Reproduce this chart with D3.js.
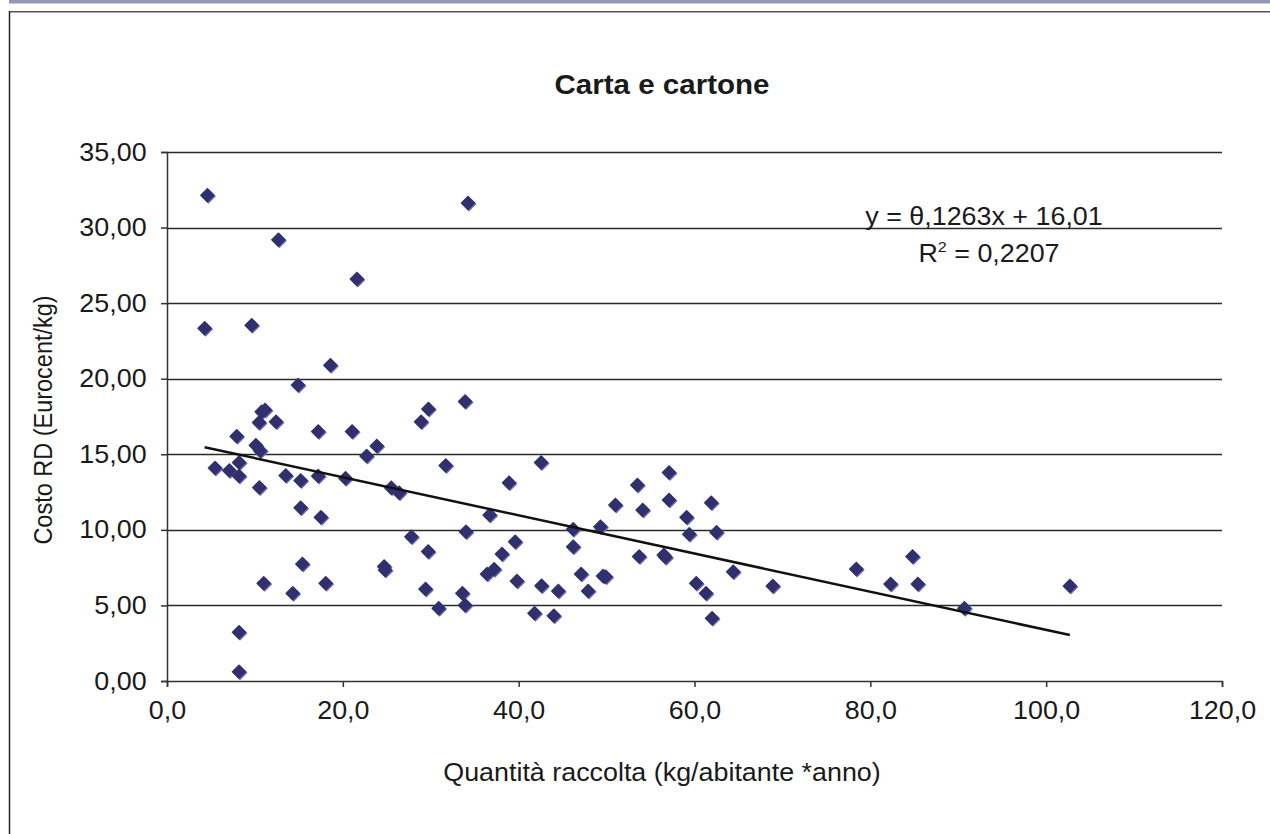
<!DOCTYPE html>
<html>
<head>
<meta charset="utf-8">
<script src="https://cdn.jsdelivr.net/npm/d3@7"></script>
<style>
html,body{margin:0;padding:0;background:#fff;}
svg{display:block;font-family:"Liberation Sans",Arial,sans-serif;}
</style>
</head>
<body>
<svg id="chart" width="1270" height="834"></svg>
<script>
const title = "Carta e cartone";
const xTitle = "Quantità raccolta (kg/abitante *anno)";
const yTitle = "Costo RD (Eurocent/kg)";
const xTicks = [0, 20, 40, 60, 80, 100, 120];
const yTicks = [0, 5, 10, 15, 20, 25, 30, 35];
const trendSlope = -0.1263;
const trendIntercept = 16.01;
const eqText = "y = θ,1263x + 16,01";
const r2Text = "0,2207";

const xs = [4.59,12.67,21.6,4.28,9.63,18.58,14.9,10.77,11.15,10.47,12.4,7.93,17.2,21.05,29.73,28.9,33.9,34.24,
10.1,10.6,23.86,22.7,8.2,5.46,7.09,8.2,13.5,15.2,17.2,20.3,10.5,25.5,26.4,31.7,15.2,17.5,27.8,29.7,15.4,24.7,24.8,
11.0,18.05,14.3,29.4,30.9,33.6,33.9,8.19,8.19,42.55,38.9,36.7,34.0,39.6,38.1,36.4,37.2,39.8,42.6,44.5,41.8,44.0,
46.2,46.2,49.3,47.1,47.9,49.6,49.9,51.0,53.5,54.1,53.7,56.5,56.7,57.1,57.1,59.1,59.4,61.9,62.5,60.2,61.3,62.0,
64.4,68.9,78.4,82.3,84.8,85.4,90.7,102.7];
const ys = [32.14,29.19,26.6,23.34,23.54,20.89,19.59,17.82,17.93,17.1,17.16,16.2,16.5,16.5,18.0,17.16,18.49,31.63,
15.6,15.24,15.55,14.89,14.45,14.1,13.92,13.57,13.59,13.26,13.57,13.41,12.8,12.79,12.46,14.25,11.47,10.83,9.55,8.56,7.74,7.57,7.35,
6.46,6.46,5.80,6.09,4.81,5.80,5.01,3.22,0.62,14.45,13.12,10.99,9.88,9.22,8.41,7.08,7.39,6.62,6.31,5.96,4.48,4.32,
10.04,8.89,10.21,7.08,5.96,6.95,6.9,11.65,12.97,11.32,8.23,8.34,8.19,13.79,11.98,10.83,9.71,11.8,9.84,6.46,5.80,4.15,
7.23,6.29,7.41,6.42,8.23,6.42,4.81,6.29];

const SX = 1.075; // horizontal stretch of the reference's text
const svg = d3.select("#chart");
const fmt = d => d3.format(".1f")(d).replace(".", ",");
const fmt2 = d => d3.format(".2f")(d).replace(".", ",");

// frame
svg.append("rect").attr("x", 9).attr("y", 0).attr("width", 1261).attr("height", 3.5).attr("fill", "#9696b9");
svg.append("line").attr("x1", 9).attr("x2", 1270).attr("y1", 11.5).attr("y2", 11.5).attr("stroke", "#555").attr("stroke-width", 1);
svg.append("line").attr("x1", 10).attr("x2", 1270).attr("y1", 12.5).attr("y2", 12.5).attr("stroke", "#aaa").attr("stroke-width", 1);
svg.append("line").attr("x1", 9.5).attr("x2", 9.5).attr("y1", 11).attr("y2", 834).attr("stroke", "#222").attr("stroke-width", 1.5);

const x = d3.scaleLinear().domain([0, 120]).range([167, 1222]);
const y = d3.scaleLinear().domain([0, 35]).range([681, 152]);

// gridlines
svg.append("g").selectAll("line").data(yTicks.filter(d => d > 0)).join("line")
  .attr("x1", x(0)).attr("x2", x(120))
  .attr("y1", d => Math.round(y(d)) + 0.5).attr("y2", d => Math.round(y(d)) + 0.5)
  .attr("stroke", "#2a2a2a").attr("stroke-width", 1.3);

// axes
const yAxis = svg.append("g").attr("transform", `translate(${x(0)},0)`)
  .call(d3.axisLeft(y).tickValues(yTicks).tickFormat(fmt2).tickSize(6).tickPadding(13));
const xAxis = svg.append("g").attr("transform", `translate(0,${y(0)})`)
  .call(d3.axisBottom(x).tickValues(xTicks).tickFormat(fmt).tickSize(6).tickPadding(14));
[xAxis, yAxis].forEach(a => {
  a.select(".domain").attr("stroke", "#333").attr("stroke-width", 1.5);
  a.selectAll(".tick line").attr("stroke", "#333").attr("stroke-width", 1.5);
  a.selectAll(".tick text").attr("fill", "#1a1a1a").style("font-size", "25px")
    .style("font-family", "'Liberation Sans', Arial, sans-serif")
    .attr("transform", `scale(${SX},1)`);
});

// points
const pts = xs.map((v, i) => [v, ys[i]]);
const h = 7.5;
const diamond = `M0,${-h}L${h},0L0,${h}L${-h},0Z`;
svg.append("g").selectAll("path").data(pts).join("path")
  .attr("d", diamond)
  .attr("transform", d => `translate(${x(d[0]) + 1},${y(d[1]) + 1})`)
  .attr("fill", "#7070b0");
svg.append("g").selectAll("path").data(pts).join("path")
  .attr("d", diamond)
  .attr("transform", d => `translate(${x(d[0])},${y(d[1])})`)
  .attr("fill", "#30306f");

// trendline
const ext = d3.extent(xs);
const tl = ext.map(v => [v, trendIntercept + trendSlope * v]);
svg.append("path").datum(tl)
  .attr("d", d3.line().x(d => x(d[0])).y(d => y(d[1])))
  .attr("stroke", "#111").attr("stroke-width", 2.5).attr("fill", "none");

function hText(cx, cy, size, weight) {
  return svg.append("g").attr("transform", `translate(${cx},${cy}) scale(${SX},1)`)
    .append("text").attr("text-anchor", "middle")
    .style("font-size", size + "px").style("font-weight", weight || "normal").attr("fill", "#1a1a1a");
}

// equation
hText(984, 225, 25).text(eqText);
const r2 = hText(989, 262, 25);
r2.append("tspan").text("R");
r2.append("tspan").attr("dy", -10).style("font-size", "15px").text("2");
r2.append("tspan").attr("dy", 10).text(" = " + r2Text);

// titles
hText(662, 94, 27.5, "bold").text(title);
hText(662, 781, 25).text(xTitle);
svg.append("text").attr("transform", `translate(52,420) rotate(-90) scale(1,${SX})`).attr("text-anchor", "middle")
  .style("font-size", "23.5px").attr("fill", "#1a1a1a").text(yTitle);
</script>
</body>
</html>
